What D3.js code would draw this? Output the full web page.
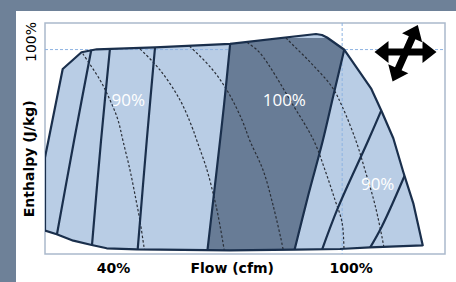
<!DOCTYPE html>
<html><head><meta charset="utf-8">
<script src="https://cdn.jsdelivr.net/npm/d3@7/dist/d3.min.js"></script>
<style>body{margin:0;background:#6e8198;} svg{display:block}</style>
</head><body>
<script>
// ---- data (flow %, enthalpy %) ----
const xTicks = [40, 100];
const xTickLabels = ["40%", "100%"];
const yTicks = [100];
const yTickLabels = ["100%"];
const xTitle = "Flow (cfm)";
const yTitle = "Enthalpy (J/kg)";

// operating envelope outline
const outline = [[18.3,13.7],[22.87,55.28],[26.65,90.5],[31.58,98.67],[35.57,100.14],[50.88,101.12],
  [70.56,102.83],[93.14,107.62],[94.71,107.13],[96.03,105.91],[100.49,100.04],[107.58,81.06],
  [110.33,69.96],[113.43,56.6],[116.05,40.11],[118.68,24.8],[121.15,4.26],[107.31,3.28],
  [99.44,2.45],[87.63,2.15],[70.56,1.81],[46.07,2.3],[38.2,2.79],[34.26,4.4],[29.43,6.51],
  [25.07,9.69],[22,11.5]];

// boundaries of the 100% blade-angle band
const bandLeft = [[70.75,105.67],[68.99,72.89],[67.07,41.09],[64.53,0]];
const bandRight = [[101.28,105.67],[97.73,77.78],[94.9,55.28],[91.12,28.86],[87.23,0]];

// other blade-angle lines
const lineA = [[34.44,102.73],[29.61,55.28],[24.63,4.4]];
const lineB = [[39.22,103.71],[36.7,55.28],[34.18,0.98]];
const lineC = [[51.03,104.2],[48.7,55.28],[46.23,0]];
const lineD = [[111.46,75.34],[106.79,55.28],[98.91,22.65],[94.32,0]];
const lineE = [[117.26,42.07],[110.39,13.36],[106.32,0]];

// efficiency contours (dashed)
const eff1 = [[30.66,101.75],[31.98,97.84],[36.44,85.12],[39.06,75.34],[41.16,65.55],[42.48,55.28],[44.31,41.09],[45.89,26.42],[46.94,16.14],[47.99,3.42],[48.38,-0.98]];
const eff2 = [[44.31,104.68],[46.41,101.26],[52.19,90.01],[57.44,75.34],[60.59,62.13],[61.9,55.28],[64.53,41.09],[66.23,28.86],[67.41,19.08],[68.99,2.45],[69.25,-0.98]];
const eff3 = [[58.23,104.68],[60.06,101.51],[65.84,90.5],[70.04,79.25],[73.71,65.55],[75.81,55.28],[79.23,41.09],[81.85,23.97],[84.48,2.45],[84.74,-0.98]];
const eff4 = [[73.19,106.15],[75.29,103.22],[78.44,98.33],[87.1,72.89],[92.61,55.28],[95.5,41.09],[98.13,26.42],[99.96,15.65],[100.49,2.45],[100.56,-0.98]];
const eff5 = [[83.69,109.05],[85.79,104.68],[91.56,93.93],[97.34,81.7],[99.96,72.4],[103.64,55.28],[106.0,41.09],[108.63,23.97],[110.99,2.94],[111.25,-0.98]];

// region labels
const regionLabels = ["90%", "100%", "90%"];
const regionPos = [[43.87,72.16],[84.82,72.4],[109.33,31.16]];

// ---- drawing ----
const W = 456, H = 282;
const svg = d3.select("body").append("svg").attr("width", W).attr("height", H);
svg.append("rect").attr("width", W).attr("height", H).attr("fill", "#6e8198");
svg.append("rect").attr("x", 16).attr("y", 11).attr("width", W - 16).attr("height", H - 11).attr("fill", "#ffffff");

const P = {l: 45, t: 23, r: 445, b: 254};
const x = d3.scaleLinear().domain([22, 127]).range([P.l, P.r]);
const y = d3.scaleLinear().domain([0, 113]).range([P.b, P.t]);

const lin = d3.line().x(d => x(d[0])).y(d => y(d[1]));
const smooth = d3.line().x(d => x(d[0])).y(d => y(d[1])).curve(d3.curveCatmullRom.alpha(0.5));

const defs = svg.append("defs");
defs.append("clipPath").attr("id", "plotClip").append("rect")
  .attr("x", P.l).attr("y", P.t).attr("width", P.r - P.l).attr("height", P.b - P.t);
defs.append("clipPath").attr("id", "shapeClip").append("path").attr("d", lin(outline) + "Z");

// plot border
svg.append("rect").attr("x", P.l).attr("y", P.t).attr("width", P.r - P.l).attr("height", P.b - P.t)
  .attr("fill", "none").attr("stroke", "#aab9cc").attr("stroke-width", 1.5);

const gp = svg.append("g").attr("clip-path", "url(#plotClip)");
gp.append("path").attr("d", lin(outline) + "Z").attr("fill", "#b9cde5");

// reference lines at 100%
gp.append("line").attr("x1", P.l).attr("x2", P.r).attr("y1", y(yTicks[0])).attr("y2", y(yTicks[0]))
  .attr("stroke", "#8db3e2").attr("stroke-width", 1).attr("stroke-dasharray", "3,2");
gp.append("line").attr("x1", x(xTicks[1])).attr("x2", x(xTicks[1])).attr("y1", P.t).attr("y2", P.b)
  .attr("stroke", "#8db3e2").attr("stroke-width", 1).attr("stroke-dasharray", "3,2");

const gs = gp.append("g").attr("clip-path", "url(#shapeClip)");
gs.append("path").attr("d", smooth(bandLeft) + "L" + smooth(bandRight.slice().reverse()).slice(1) + "Z")
  .attr("fill", "#687c96");

[eff1, eff2, eff3, eff4, eff5].forEach(c => {
  gs.append("path").attr("d", smooth(c)).attr("fill", "none")
    .attr("stroke", "#2a2f38").attr("stroke-width", 1.2).attr("stroke-dasharray", "2.5,2");
});
[lineA, lineB, lineC, bandLeft, bandRight, lineD, lineE].forEach(l => {
  gs.append("path").attr("d", smooth(l)).attr("fill", "none")
    .attr("stroke", "#1a2f4c").attr("stroke-width", 2.2);
});
// envelope stroke (and where envelope is cut by plot edge)
gs.append("rect").attr("x", P.l).attr("y", P.t).attr("width", P.r - P.l).attr("height", P.b - P.t)
  .attr("fill", "none").attr("stroke", "#1a2f4c").attr("stroke-width", 2.2);
gp.append("path").attr("d", lin(outline) + "Z").attr("fill", "none")
  .attr("stroke", "#1a2f4c").attr("stroke-width", 2.2).attr("stroke-linejoin", "round");

// region labels
svg.selectAll("text.region").data(regionLabels).join("text").attr("class", "region")
  .attr("x", (d, i) => x(regionPos[i][0])).attr("y", (d, i) => y(regionPos[i][1]))
  .attr("text-anchor", "middle").attr("fill", "#ffffff")
  .style("font-family", "'Open Sans', sans-serif").style("font-size", "17px").text(d => d);

// axis tick labels
const xNudge = [0, 9];
svg.selectAll("text.xt").data(xTickLabels).join("text").attr("class", "xt")
  .attr("x", (d, i) => x(xTicks[i]) + xNudge[i]).attr("y", 272.5)
  .attr("text-anchor", "middle").attr("fill", "#000")
  .style("font-family", "'DejaVu Sans', sans-serif").style("font-weight", "bold").style("font-size", "14px")
  .text(d => d);
svg.append("text").attr("x", 232.2).attr("y", 272.5).attr("text-anchor", "middle").attr("fill", "#000")
  .style("font-family", "'DejaVu Sans', sans-serif").style("font-weight", "bold").style("font-size", "14px")
  .text(xTitle);
svg.selectAll("text.yt").data(yTickLabels).join("text").attr("class", "yt")
  .attr("transform", (d, i) => `translate(36,${y(yTicks[i]) - 7.6}) rotate(-90)`)
  .attr("text-anchor", "middle").attr("fill", "#000")
  .style("font-family", "'DejaVu Sans', sans-serif").style("font-size", "14px").text(d => d);
svg.append("text").attr("transform", "translate(34,158.8) rotate(-90)")
  .attr("text-anchor", "middle").attr("fill", "#000")
  .style("font-family", "'DejaVu Sans', sans-serif").style("font-weight", "bold").style("font-size", "14px")
  .text(yTitle);

// four-way arrow icon
function dblArrow(L, hw, hl, hh) {
  const a = L / 2;
  return [[-a,0],[-a+hl,-hh],[-a+hl,-hw],[a-hl,-hw],[a-hl,-hh],[a,0],[a-hl,hh],[a-hl,hw],[-a+hl,hw],[-a+hl,hh]];
}
const arrowLine = d3.line();
svg.append("path").attr("transform", "translate(405.5,52)")
  .attr("d", arrowLine(dblArrow(62, 3.6, 14, 11)) + "Z").attr("fill", "#000");
svg.append("path").attr("transform", "translate(405.2,53.3) rotate(-66)")
  .attr("d", arrowLine(dblArrow(62, 3.6, 14, 11)) + "Z").attr("fill", "#000");
</script>
</body></html>
